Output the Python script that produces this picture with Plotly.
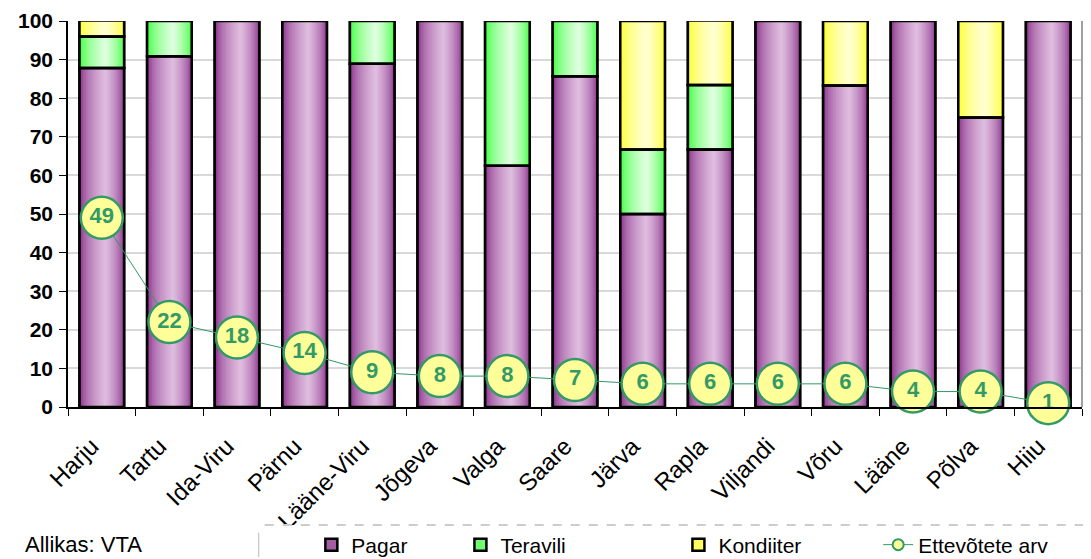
import plotly.graph_objects as go

categories = ["Harju", "Tartu", "Ida-Viru", "Pärnu", "Lääne-Viru", "Jõgeva", "Valga",
              "Saare", "Järva", "Rapla", "Viljandi", "Võru", "Lääne", "Põlva", "Hiiu"]
pagar = [87.8, 90.9, 100, 100, 88.9, 100, 62.5, 85.7, 50.0, 66.7, 100, 83.3, 100, 75.0, 100]
teravili = [8.2, 9.1, 0, 0, 11.1, 0, 37.5, 14.3, 16.7, 16.7, 0, 0, 0, 0, 0]
kondiiter = [4.1, 0, 0, 0, 0, 0, 0, 0, 33.3, 16.7, 0, 16.7, 0, 25.0, 0]
ettevotete_arv = [49, 22, 18, 14, 9, 8, 8, 7, 6, 6, 6, 6, 4, 4, 1]
y_ticks = [0, 10, 20, 30, 40, 50, 60, 70, 80, 90, 100]

FONT = "Liberation Sans, Arial, sans-serif"
W = 0.66          # bar width in category units
N = 16            # gradient strips
P = 0.58          # lightest point position across the bar

series = [
    ("Pagar", pagar, (0x84, 0x28, 0x84), (0xDE, 0xBC, 0xDE), "legend"),
    ("Teravili", teravili, (0x33, 0xFF, 0x33), (0xDD, 0xFF, 0xDD), "legend2"),
    ("Kondiiter", kondiiter, (0xFF, 0xFF, 0x22), (0xFF, 0xFF, 0xD2), "legend3"),
]


def mix(c1, c2, t):
    return "rgb(%d,%d,%d)" % tuple(round(a + (b - a) * t) for a, b in zip(c1, c2))


fig = go.Figure()

bases = [0.0] * len(categories)
seg_info = []
for name, vals, edge, center, lg in series:
    v = [x if x > 0 else None for x in vals]
    b = list(bases)
    fig.add_trace(go.Bar(
        x=categories, y=v, base=b, name=name, width=W, legend=lg,
        marker=dict(color=mix(edge, center, 0.35), line=dict(color="black", width=2.5)),
        showlegend=True, hoverinfo="skip"))
    for i in range(N):
        s = 1 - i / N
        t = (i / (N - 1)) ** 0.55
        fig.add_trace(go.Bar(
            x=categories, y=v, base=b, width=s * W,
            offset=-W / 2 + (1 - s) * P * W,
            marker=dict(color=mix(edge, center, t), line=dict(width=0)),
            showlegend=False, hoverinfo="skip"))
    seg_info.append((v, b))
    bases = [bb + x for bb, x in zip(bases, vals)]

for v, b in seg_info:
    fig.add_trace(go.Bar(
        x=categories, y=v, base=b, width=W,
        marker=dict(color="rgba(0,0,0,0)", line=dict(color="black", width=2.5)),
        showlegend=False, hoverinfo="skip"))

fig.add_trace(go.Scatter(
    x=categories, y=ettevotete_arv, mode="lines+markers+text",
    text=[str(n) for n in ettevotete_arv], textposition="middle center",
    textfont=dict(family=FONT, size=22, color="#339966", weight="bold"),
    line=dict(color="#339966", width=1),
    marker=dict(size=42, color="#FFFF99", line=dict(color="#339966", width=2.5)),
    showlegend=False, hoverinfo="skip", cliponaxis=False))

fig.add_trace(go.Scatter(
    x=[None], y=[None], mode="lines+markers", name="Ettevõtete arv", legend="legend4",
    line=dict(color="#339966", width=1),
    marker=dict(size=11, color="#FFFF99", line=dict(color="#339966", width=2))))

LEG_Y = -0.3575
leg_common = dict(orientation="h", y=LEG_Y, xanchor="left", yanchor="middle",
                  font=dict(family=FONT, size=21, color="black"),
                  bgcolor="rgba(0,0,0,0)")

fig.update_layout(
    barmode="overlay",
    width=1083, height=551,
    margin=dict(l=60, r=9, t=13, b=152, autoexpand=False),
    paper_bgcolor="white", plot_bgcolor="white",
    font=dict(family=FONT, color="black"),
    showlegend=True,
    legend=dict(x=0.240, **leg_common),
    legend2=dict(x=0.387, **leg_common),
    legend3=dict(x=0.602, **leg_common),
    legend4=dict(x=0.799, **leg_common),
    shapes=[
        dict(type="rect", xref="paper", yref="paper", x0=0.188, x1=1.02, y0=-0.3057, y1=-0.45,
             fillcolor="white", line=dict(width=0), layer="above"),
        dict(type="line", xref="paper", yref="paper", x0=0.194, x1=1.01, y0=-0.3057, y1=-0.3057,
             line=dict(color="#cccccc", width=2, dash="dash"), layer="above"),
        dict(type="line", xref="paper", yref="paper", x0=0.188, x1=0.188, y0=-0.326, y1=-0.389,
             line=dict(color="#cccccc", width=1.5), layer="above"),
        dict(type="line", xref="paper", yref="paper", x0=1, x1=1, y0=0, y1=1,
             line=dict(color="#a0a0a0", width=2)),
    ],
    annotations=[
        dict(text="Allikas: VTA", xref="paper", yref="paper", x=-0.0444, y=LEG_Y,
             xanchor="left", yanchor="middle", showarrow=False,
             font=dict(family=FONT, size=22, color="black")),
    ],
)

fig.update_xaxes(
    type="category", range=[-0.5, len(categories) - 0.5], automargin=False,
    tickangle=-45, tickson="boundaries", ticks="outside", ticklen=7,
    ticklabelstandoff=14, ticklabelshift=-10,
    tickcolor="black", showline=True, linecolor="black", linewidth=1.5,
    tickfont=dict(family=FONT, size=24, color="black"), showgrid=False,
)
fig.update_yaxes(
    range=[0, 100], tickvals=y_ticks, ticks="outside", ticklen=7, tickcolor="black",
    ticklabelstandoff=2,
    showline=True, linecolor="black", linewidth=1.5, automargin=False,
    showgrid=True, gridcolor="#d9d9d9", gridwidth=1.5,
    tickfont=dict(family=FONT, size=21, color="black", weight="bold"),
    zeroline=False,
)

fig.write_html("out.html")
